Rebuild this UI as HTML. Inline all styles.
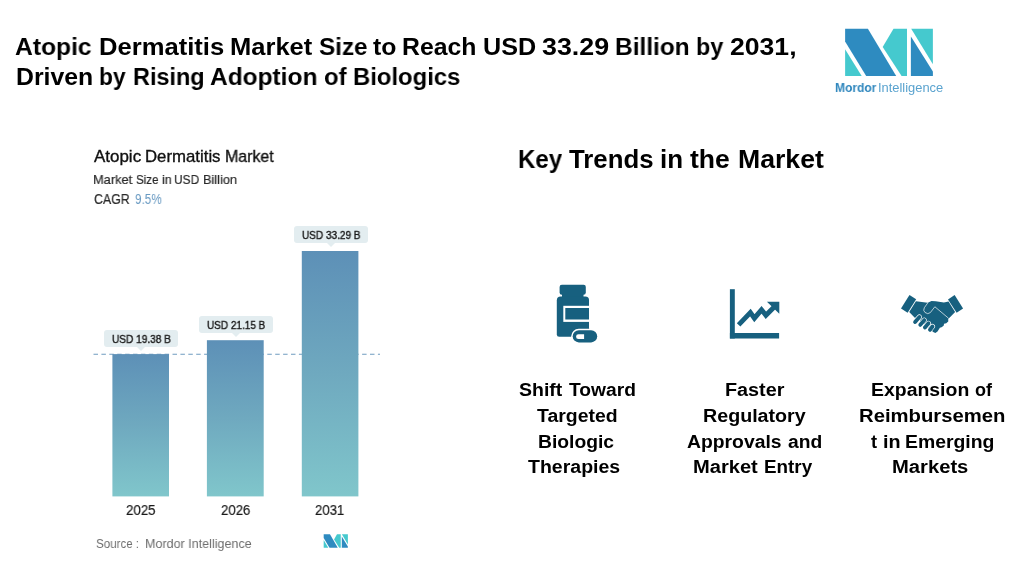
<!DOCTYPE html>
<html><head><meta charset="utf-8"><title>Atopic Dermatitis Market</title>
<style>
html,body{margin:0;padding:0;background:#fff;}
body{width:1024px;height:573px;position:relative;overflow:hidden;font-family:"Liberation Sans",sans-serif;}
.t{position:absolute;white-space:nowrap;transform-origin:0 0;margin:0;padding:0;will-change:transform;}
.a{position:absolute;}
.bar{background:linear-gradient(180deg,#5d90b7 0%,#6fa9bf 50%,#80c6cb 100%);}
.lb{background:#e3edf0;border-radius:3px;height:17px;width:74px;}
.lb:after{content:"";position:absolute;left:50%;top:100%;margin-left:-4px;border-left:4px solid transparent;border-right:4px solid transparent;border-top:4px solid #e3edf0;}
</style></head><body>
<!-- dashed line -->
<svg class="a" style="left:0;top:0" width="1024" height="573" viewBox="0 0 1024 573">
  <line x1="93.5" y1="354.3" x2="380" y2="354.3" stroke="#6f9cc0" stroke-width="1.1" stroke-dasharray="4.5 3.4"/>
</svg>
<!-- bars -->
<svg class="a" style="left:0;top:0" width="1024" height="573" viewBox="0 0 1024 573">
  <defs><linearGradient id="bg" x1="0" y1="0" x2="0" y2="1">
    <stop offset="0" stop-color="#5d90b7"/><stop offset="0.5" stop-color="#6fa9bf"/><stop offset="1" stop-color="#80c6cb"/>
  </linearGradient></defs>
  <rect x="112.4" y="354.1" width="56.6" height="142.3" fill="url(#bg)"/>
  <rect x="206.9" y="340.2" width="56.8" height="156.2" fill="url(#bg)"/>
  <rect x="301.8" y="251" width="56.6" height="245.4" fill="url(#bg)"/>
</svg>
<!-- label boxes -->
<div class="a lb" style="left:294.2px;top:226.4px;"></div>
<div class="a lb" style="left:199.3px;top:315.6px;"></div>
<div class="a lb" style="left:103.8px;top:329.9px;"></div>

<!-- big logo -->
<svg class="a" style="left:0;top:0" width="1024" height="573" viewBox="0 0 1024 573">
  <g>
    <polygon points="845.1,28.7 867.9,28.7 896.2,75.9 866.2,75.9 845.1,41.6" fill="#2e8bc0"/>
    <polygon points="845.1,49.2 845.1,75.9 861.7,75.9" fill="#45c9ce"/>
    <polygon points="893.5,28.7 907,28.7 907,75.9 901.6,75.9 882.7,47" fill="#45c9ce"/>
    <polygon points="911.2,28.7 932.9,28.7 932.9,64.3" fill="#45c9ce"/>
    <polygon points="910.9,36.5 932.9,71.4 932.9,75.9 910.9,75.9" fill="#2e8bc0"/>
  </g>
  <!-- small logo -->
  <g transform="translate(323.7,534.2) scale(0.275,0.289) translate(-845.1,-28.8)">
    <polygon points="845.1,28.7 867.9,28.7 896.2,75.9 866.2,75.9 845.1,41.6" fill="#2e8bc0"/>
    <polygon points="845.1,49.2 845.1,75.9 861.7,75.9" fill="#45c9ce"/>
    <polygon points="893.5,28.7 907,28.7 907,75.9 901.6,75.9 882.7,47" fill="#45c9ce"/>
    <polygon points="911.2,28.7 932.9,28.7 932.9,64.3" fill="#45c9ce"/>
    <polygon points="910.9,36.5 932.9,71.4 932.9,75.9 910.9,75.9" fill="#2e8bc0"/>
  </g>
</svg>

<!-- icons -->
<svg class="a" style="left:0;top:0" width="1024" height="573" viewBox="0 0 1024 573">
  <!-- bottle -->
  <g fill="#17607f">
    <rect x="559.6" y="284.8" width="26.2" height="10" rx="2.2"/>
    <rect x="562" y="293" width="21.5" height="5"/>
    <path d="M556.8,300.4 Q556.8,296.6 560.6,296.6 H585.3 Q589.1,296.6 589.1,300.4 V336.8 H559.2 Q556.8,336.8 556.8,334.4 Z"/>
  </g>
  <rect x="563.3" y="305.8" width="30" height="16.1" fill="#fff"/>
  <rect x="565.3" y="308" width="23.8" height="11.5" fill="#17607f"/>
  <rect x="589.1" y="300" width="6" height="28" fill="#fff"/>
  <rect x="571.2" y="328.7" width="27.5" height="15.2" rx="7.6" fill="#fff"/>
  <rect x="572.7" y="330.2" width="24.5" height="12.2" rx="6.1" fill="#17607f"/>
  <path d="M584.1,334.2 H578.5 A2.45,2.45 0 0 0 578.5,339.1 H584.1 Z" fill="#fff"/>
  <!-- chart -->
  <g fill="#17607f">
    <rect x="729.9" y="289.2" width="4.9" height="49.3"/>
    <rect x="729.9" y="333" width="49.2" height="5.5"/>
    <polygon points="766.9,301.8 779.3,301.8 779.3,313.8"/>
  </g>
  <polyline points="738.6,324.9 750.4,312.6 754.4,318.2 761.5,309.8 765.9,315.3 775.2,306" fill="none" stroke="#17607f" stroke-width="4.9" stroke-linejoin="miter"/>
  <!-- handshake : traced in zoom coords (origin 898,290 scale 1/11.94) -->
  <g transform="translate(898,290) scale(0.08375)">
    <g fill="#17607f">
      <polygon points="137,60 217,111 115,273 36,221"/>
      <polygon points="676,60 777,222 700,273 597,113"/>
      <path d="M214,134 L355,152 L400,130 L450,134 L548,150 L603,138 L682,262 L612,335 L600,342 L600,375 L576,396 L550,402 L545,426 L520,446 L500,452 L472,496 L446,512 L420,502 L230,330 L200,332 L134,263 Z"/>
    </g>
    <path d="M357,152 L314,212 Q296,245 322,268 Q356,296 386,270 L440,200 L602,336" fill="none" stroke="#fff" stroke-width="8" stroke-linejoin="round"/>
    <g stroke="#fff" stroke-width="61" stroke-linecap="round">
      <line x1="204" y1="382" x2="256" y2="322"/>
      <line x1="266" y1="416" x2="314" y2="360"/>
      <line x1="322" y1="448" x2="364" y2="398"/>
      <line x1="382" y1="474" x2="412" y2="436"/>
    </g>
    <g stroke="#17607f" stroke-width="46" stroke-linecap="round">
      <line x1="204" y1="382" x2="256" y2="322"/>
      <line x1="266" y1="416" x2="314" y2="360"/>
      <line x1="322" y1="448" x2="364" y2="398"/>
      <line x1="382" y1="474" x2="412" y2="436"/>
    </g>
  </g>
</svg>

<div class="t" style="left:94.10px;top:191.00px;font-size:13.9px;line-height:17px;font-weight:400;color:#2a2a2a;transform:scaleX(0.8903);-webkit-text-stroke:0.2px #2a2a2a;">CAGR</div>
<div class="t" style="left:135.40px;top:191.00px;font-size:13.9px;line-height:17px;font-weight:400;color:#6a9bc3;transform:scaleX(0.8464);">9.5%</div>
<div class="t" style="left:301.60px;top:229.00px;font-size:11.2px;line-height:13px;font-weight:400;color:#1a1a1a;transform:scaleX(0.8961);-webkit-text-stroke:0.4px #1a1a1a;">USD 33.29 B</div>
<div class="t" style="left:206.90px;top:319.00px;font-size:11.2px;line-height:13px;font-weight:400;color:#1a1a1a;transform:scaleX(0.8931);-webkit-text-stroke:0.4px #1a1a1a;">USD 21.15 B</div>
<div class="t" style="left:111.70px;top:333.00px;font-size:11.2px;line-height:13px;font-weight:400;color:#1a1a1a;transform:scaleX(0.9023);-webkit-text-stroke:0.4px #1a1a1a;">USD 19.38 B</div>
<div class="t" style="left:126.00px;top:502.00px;font-size:14.3px;line-height:17px;font-weight:400;color:#1a1a1a;transform:scaleX(0.9292);-webkit-text-stroke:0.2px #1a1a1a;">2025</div>
<div class="t" style="left:220.60px;top:502.00px;font-size:14.3px;line-height:17px;font-weight:400;color:#1a1a1a;transform:scaleX(0.9230);-webkit-text-stroke:0.2px #1a1a1a;">2026</div>
<div class="t" style="left:315.30px;top:502.00px;font-size:14.3px;line-height:17px;font-weight:400;color:#1a1a1a;transform:scaleX(0.9198);-webkit-text-stroke:0.2px #1a1a1a;">2031</div>
<div class="t" style="left:95.50px;top:536.00px;font-size:13.5px;line-height:16px;font-weight:400;color:#6d6d6d;transform:scaleX(0.8582);">Source :</div>
<div class="t" style="left:144.57px;top:536.00px;font-size:13.5px;line-height:16px;font-weight:400;color:#6d6d6d;transform:scaleX(0.9294);">Mordor Intelligence</div>
<div class="t" style="left:536.80px;top:405.00px;font-size:18px;line-height:22px;font-weight:700;color:#000;transform:scaleX(1.0789);">Targeted</div>
<div class="t" style="left:538.33px;top:431.00px;font-size:18px;line-height:22px;font-weight:700;color:#000;transform:scaleX(1.0702);">Biologic</div>
<div class="t" style="left:528.40px;top:456.00px;font-size:18px;line-height:22px;font-weight:700;color:#000;transform:scaleX(1.0844);">Therapies</div>
<div class="t" style="left:724.80px;top:379.00px;font-size:18px;line-height:22px;font-weight:700;color:#000;transform:scaleX(1.0996);">Faster</div>
<div class="t" style="left:703.11px;top:405.00px;font-size:18px;line-height:22px;font-weight:700;color:#000;transform:scaleX(1.0924);">Regulatory</div>
<div class="t" style="left:858.97px;top:405.00px;font-size:18px;line-height:22px;font-weight:700;color:#000;transform:scaleX(1.1261);">Reimbursemen</div>
<div class="t" style="left:891.78px;top:456.00px;font-size:18px;line-height:22px;font-weight:700;color:#000;transform:scaleX(1.1220);">Markets</div>
<div class="t" style="left:835.00px;top:80.00px;font-size:12.8px;line-height:15px;font-weight:700;color:#2e86bd;transform:scaleX(0.9390);">Mordor</div>
<div class="t" style="left:878.49px;top:80.00px;font-size:12.8px;line-height:15px;font-weight:400;color:#5aa3cf;transform:scaleX(1.0075);">Intelligence</div>
<div class="t" style="left:15.10px;top:32.00px;font-size:24.8px;line-height:30px;font-weight:700;color:#000;transform:scaleX(0.9929);">Atopic</div>
<div class="t" style="left:98.57px;top:32.00px;font-size:24.8px;line-height:30px;font-weight:700;color:#000;transform:scaleX(1.0320);">Dermatitis</div>
<div class="t" style="left:229.97px;top:32.00px;font-size:24.8px;line-height:30px;font-weight:700;color:#000;transform:scaleX(1.0295);">Market</div>
<div class="t" style="left:318.50px;top:32.00px;font-size:24.8px;line-height:30px;font-weight:700;color:#000;transform:scaleX(0.9790);">Size</div>
<div class="t" style="left:372.90px;top:32.00px;font-size:24.8px;line-height:30px;font-weight:700;color:#000;transform:scaleX(0.9889);">to</div>
<div class="t" style="left:402.30px;top:32.00px;font-size:24.8px;line-height:30px;font-weight:700;color:#000;transform:scaleX(0.9989);">Reach</div>
<div class="t" style="left:482.59px;top:32.00px;font-size:24.8px;line-height:30px;font-weight:700;color:#000;transform:scaleX(1.0149);">USD</div>
<div class="t" style="left:542.20px;top:32.00px;font-size:24.8px;line-height:30px;font-weight:700;color:#000;transform:scaleX(1.0806);">33.29</div>
<div class="t" style="left:615.31px;top:32.00px;font-size:24.8px;line-height:30px;font-weight:700;color:#000;transform:scaleX(0.9863);">Billion</div>
<div class="t" style="left:696.16px;top:32.00px;font-size:24.8px;line-height:30px;font-weight:700;color:#000;transform:scaleX(0.9415);">by</div>
<div class="t" style="left:730.20px;top:32.00px;font-size:24.8px;line-height:30px;font-weight:700;color:#000;transform:scaleX(1.0725);">2031,</div>
<div class="t" style="left:16.00px;top:62.00px;font-size:24.8px;line-height:30px;font-weight:700;color:#000;transform:scaleX(0.9983);">Driven</div>
<div class="t" style="left:99.18px;top:62.00px;font-size:24.8px;line-height:30px;font-weight:700;color:#000;transform:scaleX(0.9166);">by</div>
<div class="t" style="left:133.05px;top:62.00px;font-size:24.8px;line-height:30px;font-weight:700;color:#000;transform:scaleX(0.9453);">Rising</div>
<div class="t" style="left:209.80px;top:62.00px;font-size:24.8px;line-height:30px;font-weight:700;color:#000;transform:scaleX(0.9875);">Adoption</div>
<div class="t" style="left:323.70px;top:62.00px;font-size:24.8px;line-height:30px;font-weight:700;color:#000;transform:scaleX(0.9608);">of</div>
<div class="t" style="left:353.34px;top:62.00px;font-size:24.8px;line-height:30px;font-weight:700;color:#000;transform:scaleX(0.9617);">Biologics</div>
<div class="t" style="left:517.64px;top:144.00px;font-size:25px;line-height:30px;font-weight:700;color:#000;transform:scaleX(0.9631);">Key</div>
<div class="t" style="left:568.90px;top:144.00px;font-size:25px;line-height:30px;font-weight:700;color:#000;transform:scaleX(1.0313);">Trends</div>
<div class="t" style="left:660.06px;top:144.00px;font-size:25px;line-height:30px;font-weight:700;color:#000;transform:scaleX(1.0378);">in</div>
<div class="t" style="left:689.80px;top:144.00px;font-size:25px;line-height:30px;font-weight:700;color:#000;transform:scaleX(1.0613);">the</div>
<div class="t" style="left:737.53px;top:144.00px;font-size:25px;line-height:30px;font-weight:700;color:#000;transform:scaleX(1.0652);">Market</div>
<div class="t" style="left:93.70px;top:147.00px;font-size:16.6px;line-height:20px;font-weight:400;color:#111;transform:scaleX(1.0213);-webkit-text-stroke:0.35px #111;">Atopic</div>
<div class="t" style="left:144.69px;top:147.00px;font-size:16.6px;line-height:20px;font-weight:400;color:#111;transform:scaleX(1.0111);-webkit-text-stroke:0.35px #111;">Dermatitis</div>
<div class="t" style="left:224.54px;top:147.00px;font-size:16.6px;line-height:20px;font-weight:400;color:#111;transform:scaleX(0.9620);-webkit-text-stroke:0.35px #111;">Market</div>
<div class="t" style="left:93.16px;top:172.00px;font-size:13.6px;line-height:16px;font-weight:400;color:#2a2a2a;transform:scaleX(0.9419);-webkit-text-stroke:0.2px #2a2a2a;">Market</div>
<div class="t" style="left:136.10px;top:172.00px;font-size:13.6px;line-height:16px;font-weight:400;color:#2a2a2a;transform:scaleX(0.8499);-webkit-text-stroke:0.2px #2a2a2a;">Size</div>
<div class="t" style="left:162.10px;top:172.00px;font-size:13.6px;line-height:16px;font-weight:400;color:#2a2a2a;transform:scaleX(0.9182);-webkit-text-stroke:0.2px #2a2a2a;">in</div>
<div class="t" style="left:174.32px;top:172.00px;font-size:13.6px;line-height:16px;font-weight:400;color:#2a2a2a;transform:scaleX(0.8751);-webkit-text-stroke:0.2px #2a2a2a;">USD</div>
<div class="t" style="left:203.06px;top:172.00px;font-size:13.6px;line-height:16px;font-weight:400;color:#2a2a2a;transform:scaleX(0.9364);-webkit-text-stroke:0.2px #2a2a2a;">Billion</div>
<div class="t" style="left:518.60px;top:379.00px;font-size:18px;line-height:22px;font-weight:700;color:#000;transform:scaleX(1.0826);">Shift</div>
<div class="t" style="left:568.60px;top:379.00px;font-size:18px;line-height:22px;font-weight:700;color:#000;transform:scaleX(1.0670);">Toward</div>
<div class="t" style="left:686.60px;top:431.00px;font-size:18px;line-height:22px;font-weight:700;color:#000;transform:scaleX(1.0737);">Approvals</div>
<div class="t" style="left:787.70px;top:431.00px;font-size:18px;line-height:22px;font-weight:700;color:#000;transform:scaleX(1.0708);">and</div>
<div class="t" style="left:692.78px;top:456.00px;font-size:18px;line-height:22px;font-weight:700;color:#000;transform:scaleX(1.1169);">Market</div>
<div class="t" style="left:763.65px;top:456.00px;font-size:18px;line-height:22px;font-weight:700;color:#000;transform:scaleX(1.0467);">Entry</div>
<div class="t" style="left:871.32px;top:379.00px;font-size:18px;line-height:22px;font-weight:700;color:#000;transform:scaleX(1.0795);">Expansion</div>
<div class="t" style="left:975.30px;top:379.00px;font-size:18px;line-height:22px;font-weight:700;color:#000;transform:scaleX(0.9892);">of</div>
<div class="t" style="left:871.30px;top:431.00px;font-size:18px;line-height:22px;font-weight:700;color:#000;transform:scaleX(1.0167);">t</div>
<div class="t" style="left:882.70px;top:431.00px;font-size:18px;line-height:22px;font-weight:700;color:#000;transform:scaleX(1.0999);">in</div>
<div class="t" style="left:905.12px;top:431.00px;font-size:18px;line-height:22px;font-weight:700;color:#000;transform:scaleX(1.0775);">Emerging</div>
</body></html>
